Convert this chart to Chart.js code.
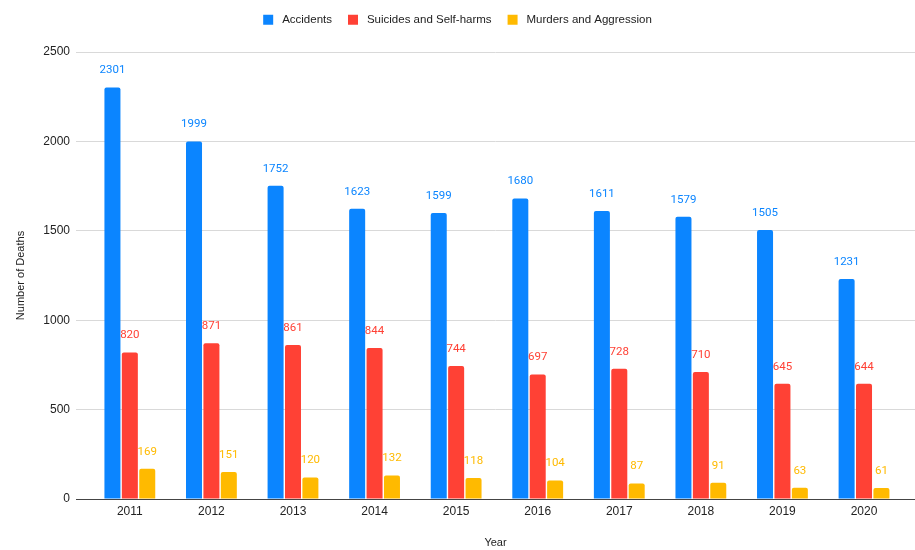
<!DOCTYPE html>
<html>
<head>
<meta charset="utf-8">
<script src="https://cdn.jsdelivr.net/npm/chart.js@4.4.1/dist/chart.umd.min.js"></script>
<style>
  html, body { margin: 0; padding: 0; background: #ffffff; }
  #wrap { width: 915px; height: 550px; position: relative; }
</style>
</head>
<body>
<div id="wrap"><canvas id="deathsChart"></canvas></div>
<script>
// deaths per year, by cause
const years = [2011, 2012, 2013, 2014, 2015, 2016, 2017, 2018, 2019, 2020];
const accidents = [2301, 1999, 1752, 1623, 1599, 1680, 1611, 1579, 1505, 1231];
const suicides = [820, 871, 861, 844, 744, 697, 728, 710, 645, 644];
const murders = [169, 151, 120, 132, 118, 104, 87, 91, 63, 61];
const yTicks = [0, 500, 1000, 1500, 2000, 2500];

const colors = {
    blue: '#0B85FF',
    red: '#FF4135',
    yellow: '#FFBA00',
    grid: '#D9D9D9',
    axis: '#444444',
    text: '#222222'
};

// value labels drawn above each bar
const barValueLabels = {
    id: 'barValueLabels',
    afterDatasetsDraw(chart) {
        const ctx = chart.ctx;
        ctx.save();
        ctx.font = '11.5px Roboto';
        ctx.textAlign = 'center';
        ctx.textBaseline = 'middle';
        chart.data.datasets.forEach((ds, i) => {
            const meta = chart.getDatasetMeta(i);
            meta.data.forEach((bar, j) => {
                ctx.fillStyle = ds.backgroundColor;
                ctx.fillText(String(ds.data[j]), bar.x, bar.y - 17);
            });
        });
        ctx.restore();
    }
};

// fixed legend band height
const legendBand = {
    id: 'legendBand',
    beforeInit(chart) {
        const fit = chart.legend.fit;
        chart.legend.fit = function () {
            fit.bind(chart.legend)();
            this.height = 54;
        };
    }
};

const makeSet = (label, data, color) => ({
    label: label,
    data: data,
    backgroundColor: color,
    borderWidth: 0,
    borderRadius: { topLeft: 2, topRight: 2 },
    borderSkipped: 'bottom',
    categoryPercentage: 0.64,
    barPercentage: 0.92
});

new Chart(document.getElementById('deathsChart'), {
    type: 'bar',
    data: {
        labels: years,
        datasets: [
            makeSet('Accidents', accidents, colors.blue),
            makeSet('Suicides and Self-harms', suicides, colors.red),
            makeSet('Murders and Aggression', murders, colors.yellow)
        ]
    },
    options: {
        responsive: true,
        maintainAspectRatio: false,
        animation: false,
        layout: { padding: { top: -2, right: 0, bottom: 0, left: 0 } },
        plugins: {
            legend: {
                position: 'top',
                labels: {
                    color: colors.text,
                    font: { family: 'Liberation Sans', size: 11.5 },
                    boxWidth: 10,
                    boxHeight: 10,
                    padding: 16,
                    generateLabels: (chart) => {
                        const items = Chart.defaults.plugins.legend.labels.generateLabels(chart);
                        items.forEach(it => { it.text = ' ' + it.text; });
                        return items;
                    }
                }
            },
            tooltip: { enabled: false }
        },
        scales: {
            x: {
                type: 'linear',
                offset: false,
                min: 2010.34,
                max: 2020.625,
                afterBuildTicks: (s) => { s.ticks = years.map(v => ({ value: v })); },
                afterFit: (s) => { s.height = 51; },
                grid: { display: false, drawTicks: false },
                border: { display: true, color: colors.axis, width: 1 },
                ticks: {
                    color: colors.text,
                    font: { family: 'Liberation Sans', size: 12 },
                    padding: 5,
                    maxRotation: 0,
                    autoSkip: false,
                    callback: (v) => String(v)
                },
                title: {
                    display: true,
                    text: 'Year',
                    color: colors.text,
                    font: { family: 'Liberation Sans', size: 11 },
                    padding: { top: 12, bottom: 0 }
                }
            },
            y: {
                min: 0,
                max: 2500,
                afterBuildTicks: (s) => { s.ticks = yTicks.map(v => ({ value: v })); },
                afterFit: (s) => { s.width = 76; },
                grid: { color: colors.grid, lineWidth: 1, drawTicks: false },
                border: { display: false },
                ticks: {
                    color: colors.text,
                    font: { family: 'Liberation Sans', size: 12 },
                    padding: 6,
                    callback: (v) => String(v)
                },
                title: {
                    display: true,
                    text: 'Number of Deaths',
                    color: colors.text,
                    font: { family: 'Liberation Sans', size: 11 },
                    padding: { top: 14, bottom: 8 }
                }
            }
        }
    },
    plugins: [barValueLabels, legendBand]
});
</script>
</body>
</html>
